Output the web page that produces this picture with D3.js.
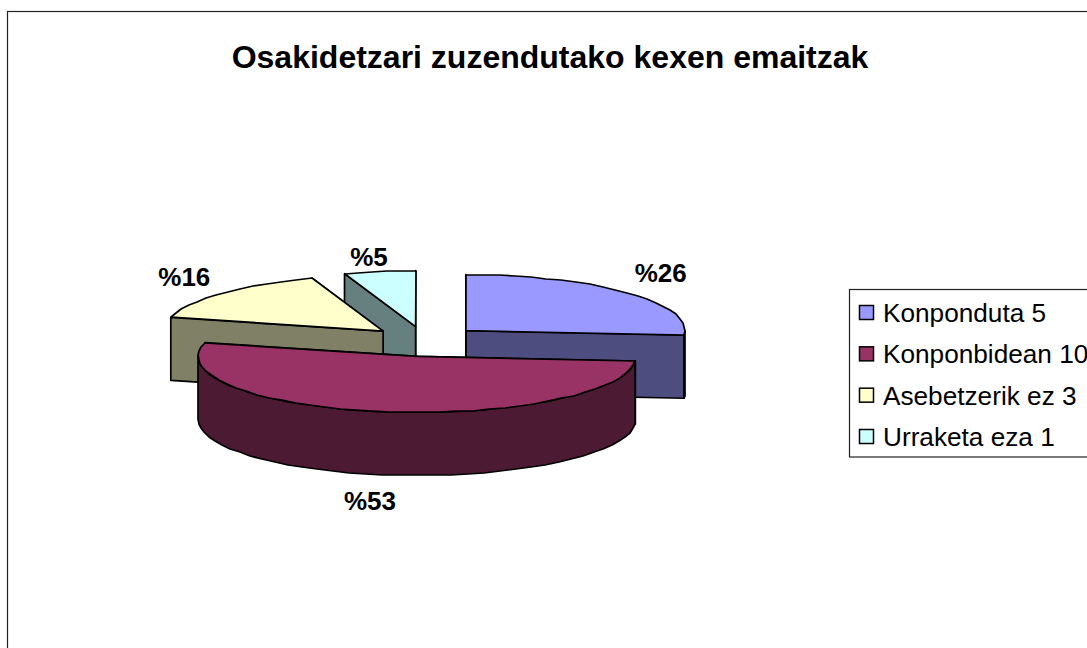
<!DOCTYPE html>
<html><head><meta charset="utf-8">
<script src="https://cdn.jsdelivr.net/npm/d3@7/dist/d3.min.js"></script>
<style>html,body{margin:0;padding:0;background:#fff;overflow:hidden}svg{display:block}text{font-family:"Liberation Sans",Arial,sans-serif;fill:#000}</style>
</head><body><svg id="c" width="1087" height="648"></svg>
<script>
const title = "Osakidetzari zuzendutako kexen emaitzak";
const categories = ["Konponduta","Konponbidean","Asebetzerik ez","Urraketa eza"];
const values = [5,10,3,1];
const topColors = ["#9999ff","#993366","#ffffcc","#ccffff"];
const wallColors = ["#4d4d80","#4d1a33","#808066","#668080"];
const drawOrder = [3,0,2,1];

const W=1087,H=648;
const svg=d3.select("#c");
svg.append("rect").attr("x",7.5).attr("y",11.5).attr("width",W+20).attr("height",H+20)
  .attr("fill","#fff").attr("stroke","#222").attr("stroke-width",1.2);
svg.append("text").attr("x",550).attr("y",68).attr("text-anchor","middle")
  .attr("font-weight","bold").attr("font-size",32).text(title);

// pie geometry: d3.pie gives angles; a flattened scale pair projects the unit disc
const cx=424,cy=341,rx=219,ry=56,depth=63,explode=0.26;
const x=d3.scaleLinear().domain([-1,1]).range([cx-rx,cx+rx]);
const y=d3.scaleLinear().domain([-1,1]).range([cy-ry,cy+ry]);
const total=d3.sum(values);
const arcs=d3.pie().sort(null)(values);
const line=d3.line();
const sliceNudge=[[0,-0.5],[2.5,1],[1,0],[1,0]]; // px, the explosion is not perfectly radial
const labelNudge=[[-5,-5],[0,4],[2,-1],[-1,8]];
const project=(a,r,off,i,dz=0)=>[x(off[0]+r*Math.sin(a))+sliceNudge[i][0],y(off[1]-r*Math.cos(a))+sliceNudge[i][1]+dz];
const step=Math.PI/40;
function rimAngles(a0,a1){
  const n=Math.max(1,Math.ceil((a1-a0)/step));
  return d3.range(n+1).map(k=>a0+(a1-a0)*k/n);
}
const q=p=>[Math.round(p[0]),Math.round(p[1])];

const pieG=svg.append("g").attr("stroke","#000").attr("stroke-width",1.7).attr("stroke-linejoin","round");
drawOrder.forEach(i=>{
  const d=arcs[i],mid=(d.startAngle+d.endAngle)/2;
  const off=[explode*Math.sin(mid),-explode*Math.cos(mid)];
  const apex=project(0,0,off,i);
  const g=pieG.append("g");
  [d.endAngle,d.startAngle].forEach(a=>{
    const o=project(a,1,off,i);
    g.append("path").attr("fill",wallColors[i])
     .attr("d",line([apex,o,[o[0],o[1]+depth],[apex[0],apex[1]+depth]])+"Z");
  });
  const r0=Math.max(d.startAngle,Math.PI/2),r1=Math.min(d.endAngle,3*Math.PI/2);
  if(r1>r0){
    const as=rimAngles(r0,r1);
    const up=as.map(a=>q(project(a,1,off,i)));
    const dn=as.map(a=>q(project(a,1,off,i,depth))).reverse();
    g.append("path").attr("fill",wallColors[i]).attr("d",line(up.concat(dn))+"Z");
  }
  const pts=[apex].concat(rimAngles(d.startAngle,d.endAngle).map(a=>q(project(a,1,off,i))));
  g.append("path").attr("fill",topColors[i]).attr("d",line(pts)+"Z");
});

// percentage labels
const labelFx=1.24,labelFy=1.42;
arcs.forEach((d,i)=>{
  const mid=(d.startAngle+d.endAngle)/2;
  const off=[explode*Math.sin(mid),-explode*Math.cos(mid)];
  const front=Math.cos(mid)<0;
  const lx=x(off[0]+labelFx*Math.sin(mid))+labelNudge[i][0];
  const ly=y(off[1]-labelFy*Math.cos(mid))+(front?depth:0)+labelNudge[i][1];
  svg.append("text").attr("x",lx).attr("y",ly).attr("dy","0.36em").attr("text-anchor","middle")
    .attr("font-weight","bold").attr("font-size",26)
    .text("%"+Math.round(d.value/total*100));
});

// legend
const legY=d3.scaleLinear().domain([0,categories.length-1]).range([312.5,436.5]);
svg.append("rect").attr("x",849.5).attr("y",289.5).attr("width",300).attr("height",167.5)
  .attr("fill","#fff").attr("stroke","#222").attr("stroke-width",1.2);
categories.forEach((c,i)=>{
  svg.append("rect").attr("x",859.5).attr("y",legY(i)-7).attr("width",14).attr("height",14)
    .attr("fill",topColors[i]).attr("stroke","#000").attr("stroke-width",1.5);
  svg.append("text").attr("x",883).attr("y",legY(i)).attr("dy","0.36em")
    .attr("font-size",26.2).text(c+" "+values[i]);
});
</script></body></html>
